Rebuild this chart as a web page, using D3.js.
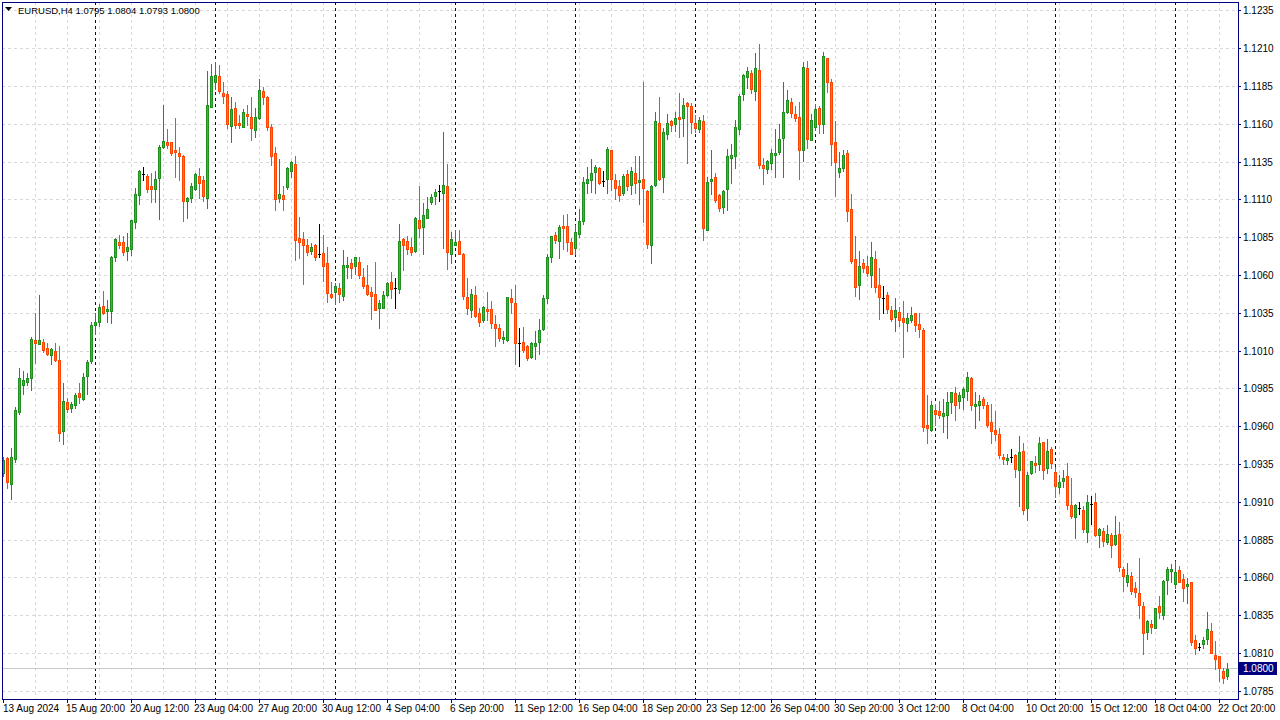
<!DOCTYPE html>
<html>
<head>
<meta charset="utf-8">
<script src="https://cdn.jsdelivr.net/npm/d3@7"></script>
<style>
html,body{margin:0;padding:0;background:#fff;}
svg{display:block;}
text{font-family:"Liberation Sans",Arial,sans-serif;}
</style>
</head>
<body>
<svg id="chart" width="1280" height="720"></svg>
<script>
// ---- data (EURUSD H4, bar 0 = 13 Aug 2024 04:00) ----
const open = [1.09296,1.09393,1.09219,1.09386,1.09697,1.09878,1.09897,1.09924,1.10173,1.10149,1.10160,1.10120,1.10076,1.10100,1.10041,1.09569,1.09761,1.09725,1.09741,1.09821,1.09785,1.09937,1.10034,1.10275,1.10294,1.10398,1.10367,1.10365,1.10724,1.10821,1.10821,1.10764,1.10777,1.10956,1.11130,1.11269,1.11258,1.11192,1.11174,1.11247,1.11450,1.11481,1.11481,1.11430,1.11410,1.11390,1.11091,1.11114,1.11172,1.11258,1.11230,1.11114,1.11716,1.11882,1.11917,1.11805,1.11798,1.11587,1.11706,1.11609,1.11584,1.11668,1.11648,1.11564,1.11640,1.11820,1.11780,1.11584,1.11408,1.11114,1.11130,1.11187,1.11293,1.11337,1.10846,1.10840,1.10802,1.10764,1.10802,1.10742,1.10751,1.10683,1.10478,1.10493,1.10517,1.10466,1.10658,1.10683,1.10665,1.10689,1.10588,1.10535,1.10491,1.10476,1.10385,1.10387,1.10471,1.10557,1.10515,1.10509,1.10840,1.10828,1.10788,1.10762,1.10967,1.10923,1.10982,1.11086,1.11128,1.11157,1.11147,1.11192,1.10744,1.10804,1.10828,1.10742,1.10458,1.10372,1.10471,1.10352,1.10306,1.10380,1.10376,1.10279,1.10251,1.10177,1.10175,1.10449,1.10416,1.10151,1.10158,1.10132,1.10061,1.10136,1.10158,1.10246,1.10453,1.10724,1.10866,1.10826,1.10927,1.10925,1.10821,1.10784,1.10876,1.10962,1.11210,1.11230,1.11286,1.11309,1.11228,1.11236,1.11428,1.11230,1.11190,1.11147,1.11269,1.11196,1.11276,1.11216,1.11236,1.11159,1.10800,1.11196,1.11607,1.11249,1.11538,1.11620,1.11604,1.11648,1.11644,1.11739,1.11719,1.11607,1.11567,1.11620,1.10903,1.11227,1.11249,1.11134,1.11055,1.11170,1.11375,1.11388,1.11567,1.11798,1.11915,1.11939,1.11822,1.11957,1.11331,1.11306,1.11346,1.11395,1.11415,1.11507,1.11683,1.11745,1.11666,1.11646,1.11428,1.11970,1.11498,1.11584,1.11708,1.11600,1.12036,1.11878,1.11481,1.11286,1.11313,1.11408,1.11038,1.10707,1.10535,1.10681,1.10661,1.10605,1.10707,1.10537,1.10449,1.10471,1.10370,1.10327,1.10356,1.10320,1.10288,1.10308,1.10350,1.10279,1.10237,1.09611,1.09576,1.09710,1.09704,1.09669,1.09679,1.09763,1.09823,1.09768,1.09798,1.09838,1.09920,1.09739,1.09741,1.09783,1.09743,1.09629,1.09576,1.09550,1.09399,1.09378,1.09397,1.09413,1.09311,1.09437,1.09060,1.09292,1.09360,1.09355,1.09497,1.09329,1.09450,1.09298,1.09199,1.09239,1.09272,1.09080,1.09001,1.09060,1.09047,1.08905,1.09089,1.09100,1.08886,1.08909,1.08839,1.08882,1.08826,1.08888,1.08659,1.08571,1.08612,1.08531,1.08498,1.08412,1.08244,1.08295,1.08270,1.08412,1.08356,1.08588,1.08647,1.08557,1.08650,1.08595,1.08548,1.08571,1.08187,1.08145,1.08161,1.08198,1.08249,1.08088,1.08081,1.07984,1.07950];
const high = [1.09399,1.09401,1.09459,1.09730,1.09988,1.09968,1.09953,1.10195,1.10352,1.10471,1.10180,1.10151,1.10118,1.10151,1.10134,1.09887,1.09790,1.09763,1.09823,1.09889,1.09955,1.10041,1.10290,1.10350,1.10411,1.10497,1.10438,1.10729,1.10846,1.10868,1.10861,1.10881,1.10970,1.11179,1.11298,1.11318,1.11271,1.11276,1.11291,1.11463,1.11728,1.11569,1.11485,1.11642,1.11450,1.11397,1.11119,1.11210,1.11278,1.11311,1.11258,1.11952,1.11999,1.12012,1.11992,1.11878,1.11822,1.11780,1.11747,1.11661,1.11699,1.11728,1.11780,1.11708,1.11900,1.11845,1.11787,1.11600,1.11448,1.11370,1.11192,1.11316,1.11357,1.11390,1.10987,1.10888,1.10839,1.10817,1.10810,1.10941,1.10868,1.10788,1.10555,1.10548,1.10552,1.10767,1.10720,1.10709,1.10722,1.10720,1.10647,1.10669,1.10524,1.10689,1.10438,1.10499,1.10557,1.10625,1.10583,1.10941,1.10848,1.10859,1.10848,1.10987,1.11192,1.11079,1.11119,1.11139,1.11172,1.11198,1.11549,1.11337,1.10888,1.10899,1.10899,1.10749,1.10583,1.10511,1.10528,1.10387,1.10396,1.10491,1.10429,1.10339,1.10277,1.10233,1.10460,1.10511,1.10535,1.10251,1.10257,1.10142,1.10160,1.10231,1.10312,1.10469,1.10740,1.10861,1.10888,1.10936,1.11000,1.11005,1.10848,1.10936,1.11040,1.11251,1.11318,1.11370,1.11331,1.11319,1.11291,1.11450,1.11432,1.11269,1.11230,1.11269,1.11296,1.11318,1.11390,1.11390,1.11880,1.11163,1.11196,1.11681,1.11780,1.11573,1.11666,1.11630,1.11681,1.11807,1.11774,1.11749,1.11741,1.11659,1.11648,1.11660,1.11249,1.11430,1.11278,1.11141,1.11167,1.11436,1.11470,1.11628,1.11802,1.11931,1.11979,1.11961,1.12071,1.12133,1.11377,1.11364,1.11435,1.11569,1.11604,1.11880,1.11825,1.11774,1.11719,1.11745,1.12011,1.12019,1.11666,1.11732,1.11721,1.12078,1.12040,1.11900,1.11622,1.11417,1.11430,1.11430,1.11139,1.10861,1.10762,1.10709,1.10729,1.10821,1.10762,1.10649,1.10532,1.10489,1.10396,1.10451,1.10394,1.10431,1.10352,1.10392,1.10352,1.10350,1.10251,1.09809,1.09768,1.09750,1.09770,1.09781,1.09829,1.09829,1.09860,1.09827,1.09860,1.09962,1.09926,1.09829,1.09809,1.09794,1.09761,1.09750,1.09704,1.09591,1.09419,1.09419,1.09452,1.09419,1.09538,1.09492,1.09300,1.09375,1.09408,1.09532,1.09500,1.09519,1.09467,1.09331,1.09278,1.09311,1.09362,1.09259,1.09089,1.09102,1.09075,1.09146,1.09143,1.09159,1.08930,1.08933,1.08950,1.08895,1.09009,1.08970,1.08672,1.08696,1.08639,1.08571,1.08731,1.08438,1.08319,1.08321,1.08402,1.08480,1.08588,1.08672,1.08690,1.08714,1.08681,1.08624,1.08601,1.08575,1.08222,1.08169,1.08211,1.08372,1.08302,1.08182,1.08085,1.08004,1.08040];
const low = [1.09274,1.09196,1.09122,1.09368,1.09686,1.09818,1.09874,1.09845,1.10023,1.10145,1.10096,1.10076,1.10017,1.10034,1.09507,1.09487,1.09699,1.09697,1.09723,1.09758,1.09776,1.09818,1.10023,1.10215,1.10268,1.10347,1.10294,1.10288,1.10698,1.10782,1.10737,1.10704,1.10737,1.10916,1.11075,1.11234,1.11152,1.11088,1.11088,1.10974,1.11443,1.11445,1.11397,1.11253,1.11234,1.10962,1.10978,1.11088,1.11163,1.11114,1.11095,1.11048,1.11712,1.11835,1.11805,1.11743,1.11577,1.11485,1.11577,1.11577,1.11580,1.11597,1.11498,1.11518,1.11636,1.11736,1.11564,1.11333,1.11035,1.11088,1.11035,1.11174,1.11251,1.10704,1.10716,1.10546,1.10735,1.10742,1.10702,1.10724,1.10564,1.10427,1.10449,1.10409,1.10427,1.10436,1.10581,1.10585,1.10608,1.10581,1.10515,1.10469,1.10314,1.10370,1.10255,1.10383,1.10466,1.10453,1.10387,1.10486,1.10636,1.10744,1.10737,1.10755,1.10857,1.10742,1.10978,1.11075,1.11075,1.11093,1.10784,1.10645,1.10685,1.10802,1.10740,1.10446,1.10345,1.10327,1.10323,1.10268,1.10290,1.10304,1.10255,1.10136,1.10169,1.10153,1.10167,1.10352,1.10017,1.10003,1.10094,1.10041,1.10056,1.10048,1.10081,1.10241,1.10416,1.10687,1.10813,1.10718,1.10777,1.10760,1.10740,1.10740,1.10857,1.10941,1.11147,1.11152,1.11147,1.11205,1.11192,1.11147,1.11167,1.11108,1.11095,1.11130,1.11167,1.11137,1.11146,1.11071,1.10956,1.10780,1.10681,1.11192,1.11232,1.11154,1.11505,1.11558,1.11558,1.11518,1.11523,1.11346,1.11544,1.11547,1.11547,1.10835,1.10900,1.11137,1.11086,1.11028,1.11015,1.11031,1.11210,1.11313,1.11538,1.11763,1.11840,1.11805,1.11763,1.11313,1.11207,1.11276,1.11304,1.11249,1.11403,1.11249,1.11677,1.11650,1.11620,1.11236,1.11354,1.11445,1.11495,1.11562,1.11544,1.11542,1.11816,1.11333,1.11128,1.11253,1.11293,1.10962,1.10685,1.10466,1.10446,1.10621,1.10597,1.10526,1.10493,1.10314,1.10354,1.10352,1.10301,1.10235,1.10268,1.10063,1.10235,1.10292,1.10235,1.10195,1.09573,1.09494,1.09569,1.09611,1.09655,1.09567,1.09527,1.09688,1.09646,1.09723,1.09719,1.09776,1.09708,1.09593,1.09644,1.09725,1.09600,1.09494,1.09514,1.09391,1.09351,1.09351,1.09368,1.09269,1.09077,1.09024,1.08985,1.09285,1.09300,1.09311,1.09252,1.09296,1.09325,1.09137,1.09163,1.09203,1.09058,1.08998,1.08866,1.09024,1.08905,1.08839,1.08956,1.08878,1.08806,1.08811,1.08826,1.08740,1.08819,1.08647,1.08515,1.08548,1.08493,1.08475,1.08333,1.08096,1.08198,1.08237,1.08266,1.08337,1.08330,1.08495,1.08575,1.08535,1.08570,1.08447,1.08434,1.08156,1.08098,1.08125,1.08138,1.08165,1.08102,1.07999,1.07920,1.07907,1.07930];
const close = [1.09378,1.09232,1.09399,1.09710,1.09922,1.09909,1.09922,1.10180,1.10155,1.10171,1.10109,1.10083,1.10112,1.10043,1.09556,1.09768,1.09719,1.09748,1.09809,1.09798,1.09928,1.10028,1.10272,1.10292,1.10392,1.10354,1.10378,1.10722,1.10841,1.10804,1.10757,1.10786,1.10967,1.11139,1.11291,1.11269,1.11174,1.11170,1.11238,1.11450,1.11487,1.11463,1.11412,1.11415,1.11392,1.11093,1.11112,1.11192,1.11269,1.11214,1.11129,1.11726,1.11917,1.11924,1.11818,1.11785,1.11600,1.11699,1.11597,1.11593,1.11679,1.11657,1.11577,1.11646,1.11825,1.11782,1.11584,1.11392,1.11108,1.11137,1.11108,1.11309,1.11349,1.10837,1.10823,1.10805,1.10757,1.10786,1.10724,1.10742,1.10665,1.10486,1.10456,1.10530,1.10476,1.10669,1.10669,1.10647,1.10720,1.10601,1.10528,1.10476,1.10466,1.10374,1.10418,1.10471,1.10552,1.10509,1.10515,1.10828,1.10804,1.10777,1.10755,1.10980,1.10914,1.11000,1.11040,1.11119,1.11152,1.11157,1.11198,1.10757,1.10839,1.10821,1.10744,1.10464,1.10387,1.10478,1.10332,1.10294,1.10392,1.10367,1.10288,1.10255,1.10188,1.10193,1.10456,1.10427,1.10155,1.10151,1.10107,1.10056,1.10151,1.10151,1.10237,1.10451,1.10722,1.10859,1.10837,1.10919,1.10916,1.10823,1.10744,1.10886,1.10960,1.11216,1.11236,1.11276,1.11316,1.11212,1.11228,1.11435,1.11236,1.11177,1.11130,1.11258,1.11190,1.11289,1.11210,1.11230,1.11177,1.10806,1.11192,1.11620,1.11236,1.11549,1.11607,1.11597,1.11640,1.11637,1.11726,1.11723,1.11617,1.11577,1.11626,1.10917,1.11218,1.11238,1.11097,1.11048,1.11159,1.11390,1.11397,1.11580,1.11787,1.11924,1.11950,1.11835,1.11970,1.11331,1.11313,1.11355,1.11408,1.11408,1.11503,1.11679,1.11759,1.11677,1.11640,1.11432,1.11977,1.11505,1.11626,1.11699,1.11604,1.12050,1.11882,1.11468,1.11349,1.11309,1.11397,1.11028,1.10698,1.10526,1.10661,1.10647,1.10618,1.10722,1.10526,1.10456,1.10449,1.10376,1.10314,1.10370,1.10308,1.10294,1.10319,1.10339,1.10271,1.10248,1.09596,1.09589,1.09743,1.09686,1.09677,1.09690,1.09763,1.09827,1.09745,1.09807,1.09849,1.09926,1.09745,1.09750,1.09768,1.09743,1.09613,1.09569,1.09554,1.09411,1.09387,1.09393,1.09397,1.09318,1.09430,1.09047,1.09278,1.09371,1.09347,1.09490,1.09315,1.09437,1.09358,1.09210,1.09232,1.09259,1.09084,1.09007,1.09080,1.09060,1.08921,1.09100,1.09089,1.08882,1.08921,1.08847,1.08890,1.08819,1.08882,1.08670,1.08610,1.08617,1.08513,1.08508,1.08419,1.08237,1.08313,1.08277,1.08399,1.08372,1.08579,1.08659,1.08659,1.08639,1.08575,1.08535,1.08559,1.08178,1.08138,1.08145,1.08187,1.08260,1.08105,1.08065,1.08002,1.07940,1.08000];

const priceTicks = [1.1235,1.1210,1.1185,1.1160,1.1135,1.1110,1.1085,1.1060,1.1035,1.1010,1.0985,1.0960,1.0935,1.0910,1.0885,1.0860,1.0835,1.0810,1.0785];
const timeTickIndex = [0,16,32,48,64,80,96,112,128,144,160,176,192,208,224,240,256,272,288,304];
const timeTickLabels = ["13 Aug 2024","15 Aug 20:00","20 Aug 12:00","23 Aug 04:00","27 Aug 20:00","30 Aug 12:00","4 Sep 04:00","6 Sep 20:00","11 Sep 12:00","16 Sep 04:00","18 Sep 20:00","23 Sep 12:00","26 Sep 04:00","30 Sep 20:00","3 Oct 12:00","8 Oct 04:00","10 Oct 20:00","15 Oct 12:00","18 Oct 04:00","22 Oct 20:00"];
const weekStartIndex = [23,53,83,113,143,173,203,233,263,293]; // Monday 00:00 bars
const symbol = "EURUSD,H4";
const lastBid = 1.0800;

// ---- layout ----
const svg = d3.select("#chart");
const L = 2, T = 2, R = 1238, B = 699;
const x = d3.scaleLinear().domain([0, 306]).range([3.7, 1227.7]);
const y = d3.scaleLinear().domain([1.0785, 1.1235]).range([691.3, 10.9]);
const px = v => Math.floor(v) + 0.5;

svg.append("rect").attr("width",1280).attr("height",720).attr("fill","#fff");

// horizontal grid
svg.append("g").selectAll("line").data(priceTicks).join("line")
  .attr("x1", L).attr("x2", R)
  .attr("y1", d => px(y(d))).attr("y2", d => px(y(d)))
  .attr("stroke", "#d8d8d8").attr("stroke-dasharray", "3,3").attr("stroke-width", 1);

// vertical grid every 8 bars
const vgrid = d3.range(8, 307, 8);
svg.append("g").selectAll("line").data(vgrid).join("line")
  .attr("x1", d => px(x(d))).attr("x2", d => px(x(d)))
  .attr("y1", T).attr("y2", B)
  .attr("stroke", "#d8d8d8").attr("stroke-dasharray", "3,3").attr("stroke-width", 1);

// weekly period separators
svg.append("g").selectAll("line").data(weekStartIndex).join("line")
  .attr("x1", d => px(x(d))).attr("x2", d => px(x(d)))
  .attr("y1", T).attr("y2", B)
  .attr("stroke", "#000080").attr("stroke-dasharray", "3,3").attr("stroke-width", 1);

// bid line
svg.append("line").attr("x1", L).attr("x2", R)
  .attr("y1", px(y(lastBid))).attr("y2", px(y(lastBid)))
  .attr("stroke", "#c8c8c8").attr("stroke-width", 1);

// candles
const bars = d3.range(open.length).map(i => ({i, o: open[i], h: high[i], l: low[i], c: close[i]}));
const bullLine = "#1f8f1f", bullFill = "#3cb43c";
const bearLine = "#ff4500", bearFill = "#ff7a26";
const g = svg.append("g");
bars.forEach(d => {
  const cx = Math.floor(x(d.i));
  const col = d.c > d.o ? bullLine : (d.c < d.o ? bearLine : "#000");
  g.append("line")
    .attr("x1", cx + 0.5).attr("x2", cx + 0.5)
    .attr("y1", Math.round(y(d.h))).attr("y2", Math.round(y(d.l)) + 1)
    .attr("stroke", col).attr("stroke-width", 1);
  const yt = Math.round(y(Math.max(d.o, d.c)));
  const yb = Math.round(y(Math.min(d.o, d.c)));
  if (d.c === d.o) {
    g.append("line").attr("x1", cx - 1).attr("x2", cx + 2)
      .attr("y1", yt + 0.5).attr("y2", yt + 0.5).attr("stroke", "#000");
  } else {
    g.append("rect")
      .attr("x", cx - 0.5).attr("y", yt + 0.5)
      .attr("width", 2).attr("height", Math.max(yb - yt, 0))
      .attr("fill", d.c > d.o ? bullFill : bearFill)
      .attr("stroke", col).attr("stroke-width", 1);
  }
});

// frame
svg.append("rect").attr("x", L + 0.5).attr("y", T + 0.5)
  .attr("width", R - L).attr("height", B - T)
  .attr("fill", "none").attr("stroke", "#000080").attr("stroke-width", 1);

// price axis
const pa = svg.append("g");
priceTicks.forEach(p => {
  const yy = px(y(p));
  pa.append("line").attr("x1", R).attr("x2", R + 3).attr("y1", yy).attr("y2", yy).attr("stroke", "#000080");
  pa.append("text").attr("x", 1243).attr("y", yy + 3.5)
    .attr("font-size", "10px").attr("fill", "#000").text(p.toFixed(4));
});

// bid label
const by = px(y(lastBid));
svg.append("rect").attr("x", 1239).attr("y", by - 6.5).attr("width", 38).attr("height", 13).attr("fill", "#000080");
svg.append("text").attr("x", 1243).attr("y", by + 3.5).attr("font-size", "10px").attr("fill", "#fff").text(lastBid.toFixed(4));

// time axis
const ta = svg.append("g");
timeTickIndex.forEach((idx, k) => {
  const xx = px(x(idx));
  ta.append("line").attr("x1", xx).attr("x2", xx).attr("y1", B).attr("y2", B + 4).attr("stroke", "#000080");
  ta.append("text").attr("x", k === 0 ? 3 : xx - 1.5).attr("y", 712)
    .attr("font-size", "10px").attr("fill", "#000").text(timeTickLabels[k]);
});

// header
svg.append("path").attr("d", "M5,7 L12,7 L8.5,11 Z").attr("fill", "#000");
svg.append("text").attr("x", 18).attr("y", 14).attr("font-size", "9.5px").attr("fill", "#000")
  .text(symbol + "  " + [open[306], high[306], low[306], close[306]].map(v => v.toFixed(4)).join(" "));
</script>
</body>
</html>
